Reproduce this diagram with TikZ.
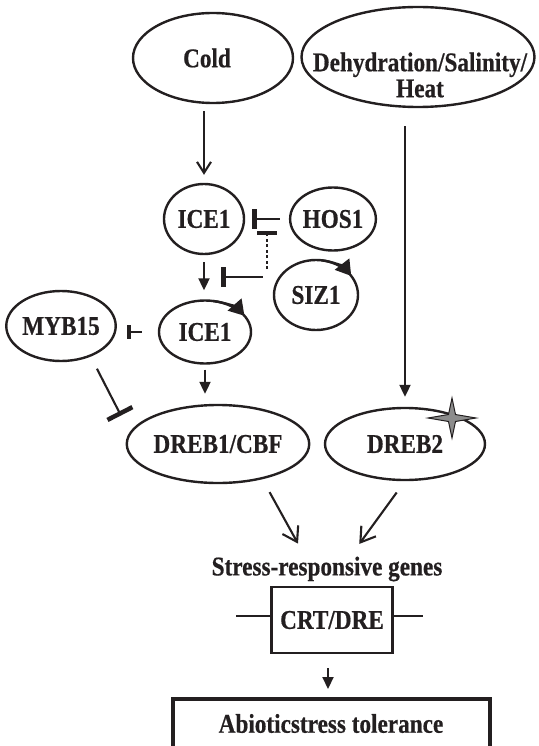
\documentclass[tikz,border=0pt]{standalone}
\usepackage{fontspec}
\setmainfont{Liberation Serif}[FakeStretch=0.86, FakeBold=0.6]
\usetikzlibrary{shapes.geometric, arrows.meta, calc}
\definecolor{ink}{HTML}{231F20}
\definecolor{starfill}{HTML}{8C8C8C}
\tikzset{
  lbl/.style={font=\fontsize{27}{26}\selectfont\bfseries, text=ink},
  ell/.style={lbl, ellipse, draw=ink, line width=2.4pt, inner sep=0pt},
  rbox/.style={lbl, draw=ink, rectangle, inner sep=0pt},
  con/.style={draw=ink, line width=2.1pt},
  arr/.style={con, -{Triangle[length=12pt,width=11pt]}},
  arrv/.style={con, -{Straight Barb[length=11pt,width=14pt]}},
  arrw/.style={con, -{Straight Barb[length=14pt,width=18pt]}},
  inh/.style={con, -{Rectangle[length=4.5pt,width=#1]}},
  tag/.style={draw=ink, line width=2.4pt, -{Triangle[length=15pt,width=18pt]}},
}
\begin{document}
\begin{tikzpicture}[x=1pt, y=-1pt]
\useasboundingbox (0,0) rectangle (538,746);
\clip (0,0) rectangle (538,746);

% nodes
\node[ell, minimum width=160pt, minimum height=90pt] (cold) at (213,58) {\hspace*{-12pt}Cold};
\node[ell, minimum width=233pt, minimum height=100pt] (dehyd) at (418,57) {};
\node[lbl, align=center] (dehydtxt) at (420,75) {Dehydration/Salinity/\\Heat};

\node[ell, minimum width=80pt, minimum height=70pt] (ice1a) at (204,219) {ICE1};
\node[ell, minimum width=82pt, minimum height=63pt] (hos1) at (333,219) {HOS1};
\node[ell, minimum width=84pt, minimum height=70pt] (siz1) at (316,295) {SIZ1};
\node[ell, minimum width=92pt, minimum height=63pt] (ice1b) at (205,332) {ICE1};
\node[ell, minimum width=100pt, minimum height=70pt] (myb15) at (61,326) {MYB15};
\node[ell, minimum width=170pt, minimum height=78pt] (dreb1) at (218,444) {DREB1/CBF};
\node[ell, minimum width=160pt, minimum height=72pt] (dreb2) at (405,444) {DREB2};

\node[lbl] (genes) at (327,569) {Stress-responsive genes};
\node[rbox, line width=2.5pt, minimum width=121pt, minimum height=66pt] (crt) at (332,620) {CRT/DRE};
\node[rbox, line width=4pt, minimum width=317pt, minimum height=49pt] (abio) at (331,723.5) {Abioticstress tolerance};

% modification tags on ellipses
\draw[tag] (siz1.center) ++(82:42pt and 35pt) arc[start angle=82, end angle=33, x radius=42pt, y radius=35pt];
\draw[tag] (ice1b.center) ++(80:46pt and 31.5pt) arc[start angle=80, end angle=31, x radius=46pt, y radius=31.5pt];

% star on DREB2
\draw[fill=starfill, draw=ink, line width=1pt, shift={(dreb2.center)}, shift={(47,-26)}]
  (0,-20) -- (3.5,-3.5) -- (24,0) -- (3.5,3.5) -- (0,20) -- (-3.5,3.5) -- (-24,0) -- (-3.5,-3.5) -- cycle;

% connectors
\draw[arrv, shorten <=7pt, shorten >=8pt] (cold.south -| ice1a.north) -- (ice1a.north);
\draw[arr, shorten <=7pt, shorten >=9pt] (ice1a.south) -- coordinate[pos=0.5] (m1) (ice1b.north -| ice1a.south);
\draw[inh=20pt, shorten <=9pt, shorten >=7pt] (hos1.west) -- coordinate[pos=0.48] (hj) (ice1a.east |- hos1.west);

\coordinate (sj) at ($(siz1.west)+(-6,-18)$);
\draw[inh=20pt, shorten <=4pt, shorten >=17pt] (sj) -- (sj -| m1);
\draw[draw=ink, line width=1.5pt, dash pattern=on 3pt off 2.5pt, -{Rectangle[length=3.5pt,width=20pt]}, shorten <=8pt, shorten >=12pt] (sj) -- (sj |- hj);

\draw[inh=14pt, shorten <=16pt, shorten >=10pt] (ice1b.west) -- (ice1b.west -| myb15.east);
\draw[inh=28pt, shorten <=48pt, shorten >=32pt] ([xshift=14pt]myb15.center) -- ([xshift=10pt]dreb1.west);
\draw[arr, shorten <=5pt, shorten >=10pt] (ice1b.south) -- (ice1b.south |- dreb1.north);

\draw[arr, shorten <=18pt, shorten >=10pt] (dehyd.south -| dreb2.north) -- (dreb2.north);

\draw[arrw, shorten <=55pt, shorten >=29pt] ([xshift=25pt]dreb1.center) -- ([xshift=-15pt]genes.center);
\draw[arrw, shorten <=60pt, shorten >=31pt] ([xshift=27pt]dreb2.center) -- ([xshift=14pt]genes.center);

\draw[con, line width=1.5pt] ([yshift=4pt]crt.west) -- ++(-34,0) coordinate (crtL);
\draw[con, line width=1.5pt] ([yshift=4pt]crt.east) -- ++(29,0) coordinate (crtR);

\coordinate (ca) at ([xshift=-4pt]crt.south);
\draw[arr, shorten <=14pt, shorten >=8pt] (ca) -- (ca |- abio.north);
\end{tikzpicture}
\end{document}
